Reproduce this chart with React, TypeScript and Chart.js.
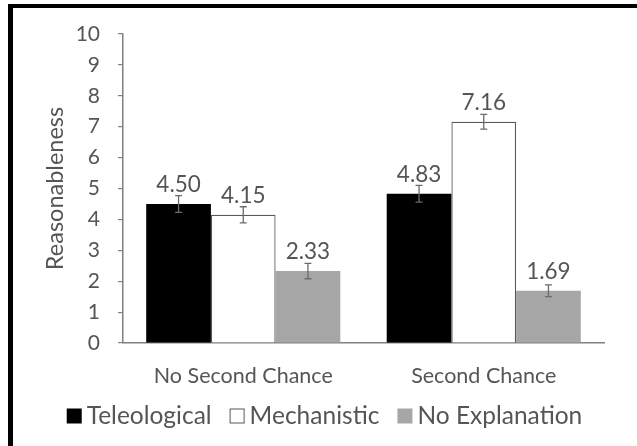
import React, { useEffect, useRef } from "react";
import { Chart, registerables } from "chart.js";

Chart.register(...registerables);

const categories = ["No Second Chance", "Second Chance"];
const seriesNames = ["Teleological", "Mechanistic", "No Explanation"];
const teleological = [4.5, 4.83];
const mechanistic = [4.15, 7.16];
const noExplanation = [2.33, 1.69];
const teleologicalErr = [0.27, 0.27];
const mechanisticErr = [0.26, 0.24];
const noExplanationErr = [0.25, 0.19];
const yMin = 0;
const yMax = 10;
const yStep = 1;

const FONT = "Lato, 'Open Sans', sans-serif";
const TEXT = "#555555";
const AXIS = "#808080";

const framePlugin = {
  id: "frame",
  afterDraw(chart: any) {
    const ctx = chart.ctx;
    ctx.save();
    ctx.fillStyle = "#000";
    ctx.fillRect(8, 4, chart.width - 8, 4);
    ctx.fillRect(8, 4, 5, chart.height - 4);
    ctx.restore();
  },
};

const barExtrasPlugin = {
  id: "barExtras",
  afterDatasetsDraw(chart: any) {
    const ctx = chart.ctx;
    const yScale = chart.scales.y;
    ctx.save();
    chart.data.datasets.forEach((ds: any, i: number) => {
      const meta = chart.getDatasetMeta(i);
      meta.data.forEach((bar: any, j: number) => {
        const v = ds.data[j];
        const e = ds.errors[j];
        const yHi = yScale.getPixelForValue(v + e);
        const yLo = yScale.getPixelForValue(v - e);
        ctx.strokeStyle = "#6b6b6b";
        ctx.lineWidth = 1.3;
        ctx.beginPath();
        ctx.moveTo(bar.x, yHi);
        ctx.lineTo(bar.x, yLo);
        ctx.moveTo(bar.x - 3.5, yHi);
        ctx.lineTo(bar.x + 3.5, yHi);
        ctx.moveTo(bar.x - 3.5, yLo);
        ctx.lineTo(bar.x + 3.5, yLo);
        ctx.stroke();
        ctx.fillStyle = TEXT;
        ctx.font = `22.5px ${FONT}`;
        ctx.textAlign = "center";
        ctx.textBaseline = "alphabetic";
        ctx.fillText(v.toFixed(2), bar.x, bar.y - 12);
      });
    });
    ctx.restore();
  },
};

const legendPlugin = {
  id: "customLegend",
  afterDraw(chart: any) {
    const ctx = chart.ctx;
    ctx.save();
    ctx.font = `24.5px ${FONT}`;
    const box = 15;
    const gap = 5;
    const spacing = 18;
    const items = chart.data.datasets.map((ds: any) => ({
      ds,
      w: ctx.measureText(ds.label).width,
    }));
    const total =
      items.reduce((s: number, it: any) => s + box + gap + it.w, 0) +
      spacing * (items.length - 1);
    let x = chart.width / 2 + 6 - total / 2;
    const baseline = 424;
    items.forEach((it: any) => {
      const ds = it.ds;
      ctx.fillStyle = ds.backgroundColor;
      ctx.fillRect(x, 408.5, box, box);
      if (ds.legendStroke) {
        ctx.strokeStyle = ds.legendStroke;
        ctx.lineWidth = 1;
        ctx.strokeRect(x + 0.5, 409, box - 1, box - 1);
      }
      x += box + gap;
      ctx.fillStyle = TEXT;
      ctx.textAlign = "left";
      ctx.textBaseline = "alphabetic";
      ctx.fillText(ds.label, x, baseline);
      x += it.w + spacing;
    });
    ctx.restore();
  },
};

export default function App() {
  const ref = useRef<HTMLCanvasElement | null>(null);

  useEffect(() => {
    if (!ref.current) return;
    const chart = new Chart(ref.current, {
      type: "bar",
      data: {
        labels: categories,
        datasets: [
          {
            label: seriesNames[0],
            data: teleological,
            errors: teleologicalErr,
            backgroundColor: "#000000",
            borderWidth: 0,
          },
          {
            label: seriesNames[1],
            data: mechanistic,
            errors: mechanisticErr,
            backgroundColor: "#ffffff",
            borderColor: "#595959",
            borderWidth: 1.3,
            borderSkipped: "bottom",
            legendStroke: "#595959",
          },
          {
            label: seriesNames[2],
            data: noExplanation,
            errors: noExplanationErr,
            backgroundColor: "#a6a6a6",
            borderWidth: 0,
          },
        ] as any,
      },
      options: {
        responsive: false,
        animation: false,
        events: [],
        layout: { padding: { left: 40, right: 33, top: 34, bottom: 53 } },
        datasets: {
          bar: { categoryPercentage: 0.807, barPercentage: 1 },
        },
        plugins: {
          legend: { display: false },
          tooltip: { enabled: false },
        },
        scales: {
          x: {
            grid: { display: false, drawTicks: false },
            border: { display: true, color: AXIS, width: 1.5 },
            ticks: {
              color: TEXT,
              font: { family: FONT, size: 21.5 },
              padding: 20,
              maxRotation: 0,
            },
            afterFit: (s: any) => {
              s.height = 50;
            },
          },
          y: {
            min: yMin,
            max: yMax,
            ticks: {
              stepSize: yStep,
              color: TEXT,
              font: { family: FONT, size: 21 },
              padding: 18,
            },
            grid: {
              drawOnChartArea: false,
              drawTicks: true,
              tickLength: 5,
              color: AXIS,
              lineWidth: 1.2,
            },
            border: { display: true, color: AXIS, width: 1.5 },
            title: {
              display: true,
              text: "Reasonableness",
              color: TEXT,
              font: { family: FONT, size: 23.5 },
              padding: { top: 1, bottom: 0 },
            },
            afterFit: (s: any) => {
              s.width = 83;
            },
          },
        },
      },
      plugins: [barExtrasPlugin, legendPlugin, framePlugin],
    } as any);
    return () => chart.destroy();
  }, []);

  return (
    <div style={{ position: "absolute", left: 0, top: 0, width: 637, height: 446, background: "#fff" }}>
      <canvas ref={ref} width={637} height={446} style={{ display: "block" }} />
    </div>
  );
}
